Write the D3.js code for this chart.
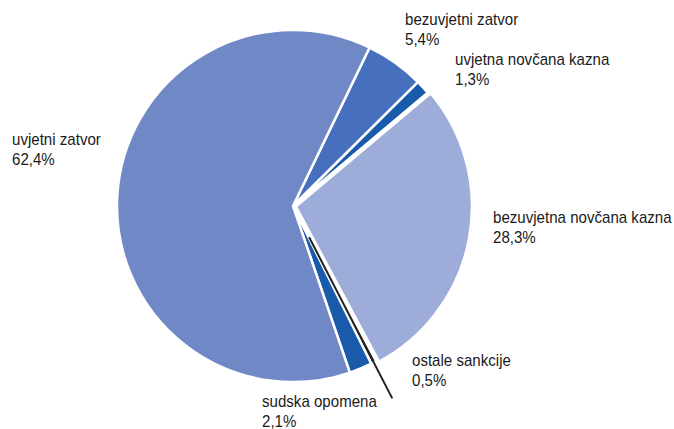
<!DOCTYPE html>
<html>
<head>
<meta charset="utf-8">
<script src="https://cdn.jsdelivr.net/npm/d3@7"></script>
<style>
  body { margin: 0; background: #fff; }
  text { font-family: "Liberation Sans", Arial, sans-serif; font-size: 16.4px; fill: #1a1a1a; }
</style>
</head>
<body>
<div id="chart"></div>
<script>
const categories = ['bezuvjetni zatvor', 'uvjetna novčana kazna', 'bezuvjetna novčana kazna',
                    'ostale sankcije', 'sudska opomena', 'uvjetni zatvor'];
const values = [5.4, 1.3, 28.3, 0.5, 2.1, 62.4];
const valueLabels = ['5,4%', '1,3%', '28,3%', '0,5%', '2,1%', '62,4%'];
const colors = ['#4670bd', '#1a5aab', '#9dacd9', '#222222', '#1a5aab', '#7089c6'];

const width = 674;
const height = 429;
const cx = 293, cy = 206, radius = 176;

// label anchor spots (left x, first baseline)
const labelPos = [[405, 25], [455, 65], [493, 223], [412, 366], [262, 407], [12, 145]];
// the big light slice sits a little apart from the others
const offsets = [0, 0, 3, 0, 0, 0];

const svg = d3.select('#chart')
              .append('svg')
              .attr('width', width)
              .attr('height', height);

const pie = d3.pie()
              .sort(null)
              .startAngle(25.8 * Math.PI / 180)
              .endAngle(25.8 * Math.PI / 180 + 2 * Math.PI);

const arcs = pie(values);
const arc = d3.arc().innerRadius(0).outerRadius(radius);

const g = svg.append('g')
             .attr('transform', 'translate(' + cx + ',' + cy + ')');

g.selectAll('path')
 .data(arcs)
 .enter()
 .append('path')
 .attr('d', arc)
 .attr('transform', (d, i) => {
   const a = (d.startAngle + d.endAngle) / 2;
   return 'translate(' + Math.sin(a) * offsets[i] + ',' + (-Math.cos(a) * offsets[i]) + ')';
 })
 .attr('fill', (d, i) => colors[i])
 .attr('stroke', '#fff')
 .attr('stroke-width', 2.5)
 .attr('stroke-linejoin', 'round');

// leader line for the tiny slice
const tiny = arcs[3];
const mid = (tiny.startAngle + tiny.endAngle) / 2;
g.append('line')
 .attr('x1', Math.sin(mid) * radius * 0.2)
 .attr('y1', -Math.cos(mid) * radius * 0.2)
 .attr('x2', Math.sin(mid) * radius * 1.23)
 .attr('y2', -Math.cos(mid) * radius * 1.23)
 .attr('stroke', '#222')
 .attr('stroke-width', 2);

const labels = svg.selectAll('text.lbl')
                  .data(categories)
                  .enter()
                  .append('text')
                  .attr('class', 'lbl')
                  .attr('transform', (d, i) => 'translate(' + labelPos[i][0] + ',' + labelPos[i][1] + ') scale(0.92,1)');

labels.append('tspan').attr('x', 0).text(d => d);
labels.append('tspan')
      .attr('x', 0)
      .attr('dy', 20)
      .text((d, i) => valueLabels[i]);
</script>
</body>
</html>
